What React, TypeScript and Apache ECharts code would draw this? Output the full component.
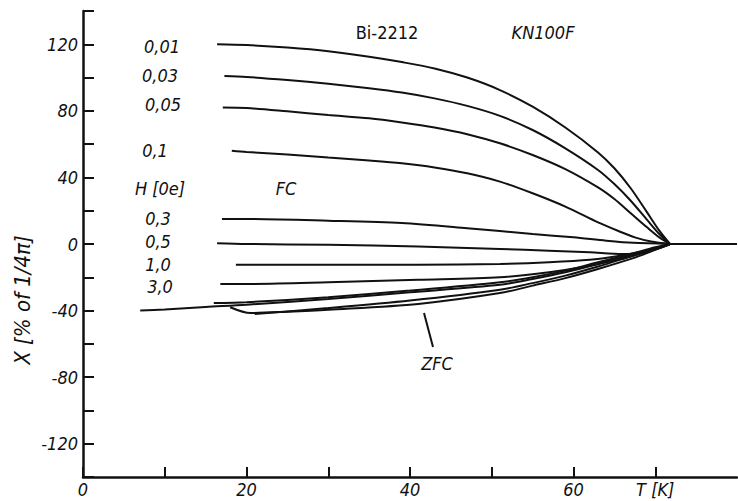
import React, { useEffect, useRef } from "react";
import * as echarts from "echarts";

// FC curves, [T (K), chi (% of 1/4pi)]
const fc001 = [[16.4, 120], [20, 119.5], [25, 118], [30, 115.8], [35, 112.5], [39, 109.3], [43, 105.5], [47, 100], [51, 92.5], [55, 82.5], [59, 70], [63, 55], [65, 45.5], [67, 33.5], [69, 19], [70.5, 8], [71.8, 0]];
const fc003 = [[17.3, 101], [20, 100.4], [25, 98.5], [30, 96.3], [35, 93.6], [39, 91], [43, 87.5], [47, 83], [51, 77], [55, 68.5], [59, 57.5], [63, 44.5], [65, 36], [67, 26], [69, 14.5], [70.5, 6], [71.8, 0]];
const fc005 = [[17.1, 82], [20, 81.7], [25, 79.7], [30, 77.5], [35, 75.5], [39, 73], [43, 70], [47, 66], [51, 60.5], [55, 53.5], [59, 45], [63, 34], [65, 27], [67, 18.5], [69, 10], [70.5, 4], [71.8, 0]];
const fc01 = [[18.2, 56], [20, 55.3], [25, 53.8], [30, 52], [35, 50.2], [39, 48.5], [43, 46], [47, 42.5], [51, 37.5], [55, 30.5], [59, 22.5], [63, 13], [65.5, 7.8], [67.5, 4], [69.5, 1.5], [71.8, 0]];
const fc03 = [[17, 15], [20, 15], [30, 14], [39, 12.6], [47, 9.5], [55, 6], [60, 4], [64, 2], [67.3, 0.7], [71.8, 0]];
const fc05 = [[16.4, 0.5], [20, 0], [30, -0.5], [41, -1.5], [51, -3], [57, -4], [62, -5], [66, -6], [68, -5.5], [70, -3], [71.8, 0]];
const fc10 = [[18.7, -12.5], [30, -12.5], [41, -12.5], [51, -12], [57, -11], [62, -9.5], [65.7, -7], [68.5, -4.5], [70.5, -2], [71.8, 0]];
const fc30 = [[16.8, -24], [20, -24], [30, -23], [41, -21.5], [51, -20], [57, -17], [61, -14], [65, -10], [68.5, -5.5], [70.5, -2.5], [71.8, 0]];
// ZFC curves
const zfcA = [[7, -40], [10, -39.3], [15, -37.8], [20, -36.5], [30, -33], [40, -29], [51, -24.5], [55, -21], [59, -17], [63, -12], [67, -6.5], [70, -2.5], [71.8, 0]];
const zfcB = [[16, -35.5], [20, -35], [30, -32], [40, -28], [51, -23], [55, -20], [59, -16], [63, -11], [67, -6], [70, -2], [71.8, 0]];
const zfcC = [[18, -38], [20.5, -41.5], [25, -40.7], [30, -39.5], [41, -36], [51, -29.5], [55, -25], [59, -20.5], [63, -15], [67.3, -8.5], [70, -3.5], [71.8, 0]];
const zfcD = [[21, -42], [30, -38.5], [40, -34], [51, -27.5], [55, -23.5], [59, -19], [63, -13.5], [67, -7.5], [70, -3], [71.8, 0]];
const normal = [[71.8, 0], [76, 0], [80, 0]];

const curves = [fc001, fc003, fc005, fc01, fc03, fc05, fc10, fc30, zfcA, zfcB, zfcC, zfcD, normal];

// tick labels
const xLabels: Record<number, string> = { 0: "0", 20: "20", 40: "40", 60: "60", 70: "T [K]" };
const yLabels: Record<number, string> = { 120: "120", 80: "80", 40: "40", 0: "0", [-40]: "-40", [-80]: "-80", [-120]: "-120" };

const FONT = "'DejaVu Sans Condensed', 'DejaVu Sans', sans-serif";
const INK = "#111";

export default function App() {
  const ref = useRef<HTMLDivElement>(null);
  useEffect(() => {
    if (!ref.current) return;
    const chart = echarts.init(ref.current, null, { renderer: "svg" });
    const txt = (text: string, x: number, y: number, extra: any = {}) => ({
      type: "text",
      x,
      y,
      style: {
        text,
        fontFamily: FONT,
        fontSize: 18,
        fontStyle: "italic",
        fill: INK,
        align: "center",
        verticalAlign: "middle",
        ...extra,
      },
    });
    chart.setOption({
      animation: false,
      backgroundColor: "#fff",
      grid: { left: 83, top: 11, width: 654, height: 466, containLabel: false },
      xAxis: {
        type: "value",
        min: 0,
        max: 80,
        interval: 10,
        splitLine: { show: false },
        axisLine: { onZero: false, lineStyle: { color: INK, width: 2.5 } },
        axisTick: { inside: true, length: 10, lineStyle: { color: INK, width: 2 } },
        axisLabel: {
          margin: 3,
          color: INK,
          fontFamily: FONT,
          fontSize: 18,
          fontStyle: "italic",
          showMaxLabel: false,
          formatter: (v: number) => xLabels[v] ?? "",
        },
      },
      yAxis: {
        type: "value",
        min: -140,
        max: 140,
        interval: 20,
        splitLine: { show: false },
        axisLine: { onZero: false, lineStyle: { color: INK, width: 2.5 } },
        axisTick: { inside: true, length: 11, lineStyle: { color: INK, width: 2 } },
        axisLabel: {
          margin: 5,
          color: INK,
          fontFamily: FONT,
          fontSize: 18,
          fontStyle: "italic",
          formatter: (v: number) => yLabels[v] ?? "",
        },
      },
      series: curves.map((d) => ({
        type: "line",
        data: d,
        smooth: 0.3,
        showSymbol: false,
        symbol: "none",
        lineStyle: { color: INK, width: 2 },
        z: 3,
      })),
      graphic: [
        txt("0,01", 162, 46),
        txt("0,03", 160, 75),
        txt("0,05", 163, 104),
        txt("0,1", 155, 150),
        txt("H [0e]", 160, 188),
        txt("0,3", 158, 218),
        txt("0,5", 158, 241),
        txt("1,0", 158, 264),
        txt("3,0", 160, 286),
        txt("FC", 286, 188),
        txt("Bi-2212", 387, 32, { fontStyle: "normal" }),
        txt("KN100F", 543, 32),
        txt("ZFC", 437, 363),
        {
          type: "line",
          shape: { x1: 424, y1: 313, x2: 433, y2: 347 },
          style: { stroke: INK, lineWidth: 2 },
        },
        {
          type: "text",
          x: 22,
          y: 300,
          rotation: Math.PI / 2,
          style: {
            text: "X [% of 1/4π]",
            fontFamily: FONT,
            fontSize: 22,
            fontStyle: "italic",
            fill: INK,
            align: "center",
            verticalAlign: "middle",
          },
        },
      ],
    });
    return () => chart.dispose();
  }, []);
  return (
    <div
      ref={ref}
      style={{ position: "fixed", left: 0, top: 0, width: 738, height: 501, background: "#fff" }}
    />
  );
}
